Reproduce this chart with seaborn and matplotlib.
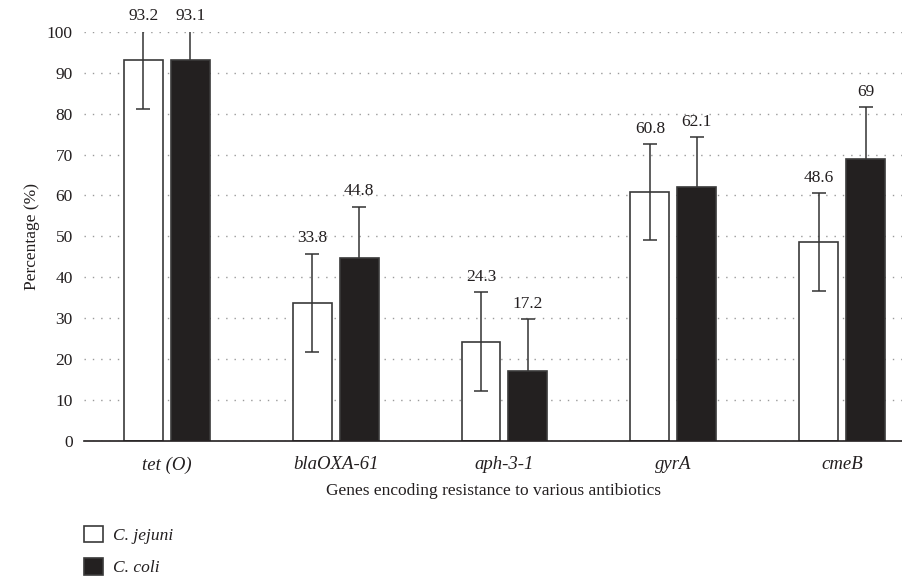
import numpy as np
import pandas as pd
import matplotlib
matplotlib.use("Agg")
import matplotlib.pyplot as plt
import seaborn as sns

genes = ["tet (O)", "blaOXA-61", "aph-3-1", "gyrA", "cmeB"]
species = ["C. jejuni", "C. coli"]
jejuni = [93.2, 33.8, 24.3, 60.8, 48.6]
coli = [93.1, 44.8, 17.2, 62.1, 69.0]
jejuni_err = [12.0, 12.0, 12.0, 11.8, 12.0]
coli_err = [12.5, 12.5, 12.6, 12.2, 12.5]

df = pd.DataFrame({
    "gene": genes * 2,
    "species": [species[0]] * 5 + [species[1]] * 5,
    "pct": jejuni + coli,
    "err": jejuni_err + coli_err,
})

sns.set_theme(style="white")
plt.rcParams["font.family"] = ["Liberation Serif", "DejaVu Serif"]

fig, ax = plt.subplots(figsize=(9.03, 5.78), dpi=100)
fig.subplots_adjust(left=0.093, right=1.0, top=0.945, bottom=0.237)

sns.barplot(data=df, x="gene", y="pct", hue="species", order=genes,
            hue_order=species, palette=["white", "#231f20"],
            edgecolor="#3a3a3a", linewidth=1.2, width=0.556, gap=0.17,
            errorbar=None, ax=ax, zorder=2)

# error bars and value labels from bar centres
patches = ax.patches[:10]
for p, (_, row) in zip(patches, df.iterrows()):
    x = p.get_x() + p.get_width() / 2
    z = 3 if row["species"] == species[0] else 1.5
    ax.errorbar(x, row["pct"], yerr=row["err"], fmt="none", ecolor="#333333",
                elinewidth=1.1, capsize=5, capthick=1.1, zorder=z)
    top = min(row["pct"] + row["err"], 100)
    lab = f"{row['pct']:g}"
    ax.text(x, top + 1.8, lab, ha="center", va="bottom", fontsize=12.5,
            color="#231f20", clip_on=False)

ax.set_ylim(0, 100)
ax.set_xlim(-0.49, 4.36)
ax.set_yticks(np.arange(0, 101, 10))
ax.yaxis.grid(True, linestyle=(0, (1, 5)), color="#9a9a9a", linewidth=1.0)
ax.set_axisbelow(True)
for s in ["top", "right", "left"]:
    ax.spines[s].set_visible(False)
ax.spines["bottom"].set_color("#231f20")
ax.spines["bottom"].set_linewidth(1.2)
ax.tick_params(axis="y", length=0, labelsize=12.5, labelcolor="#231f20", pad=8)
ax.tick_params(axis="x", length=0, labelsize=13.5, labelcolor="#231f20", pad=11)
for t in ax.get_xticklabels():
    t.set_fontstyle("italic")
ax.set_xlabel("Genes encoding resistance to various antibiotics", fontsize=12.5,
              color="#231f20", labelpad=7)
ax.set_ylabel("Percentage (%)", fontsize=12.5, color="#231f20", labelpad=5)

sns.move_legend(ax, "upper left", bbox_to_anchor=(-0.009, -0.19), frameon=False,
                title=None, fontsize=12.5, handlelength=1.1, handleheight=1.1,
                handletextpad=0.6, labelspacing=0.8, borderaxespad=0)
leg = ax.get_legend()
for t in leg.get_texts():
    t.set_fontstyle("italic")
    t.set_color("#231f20")

fig.savefig("out.png", dpi=100)
